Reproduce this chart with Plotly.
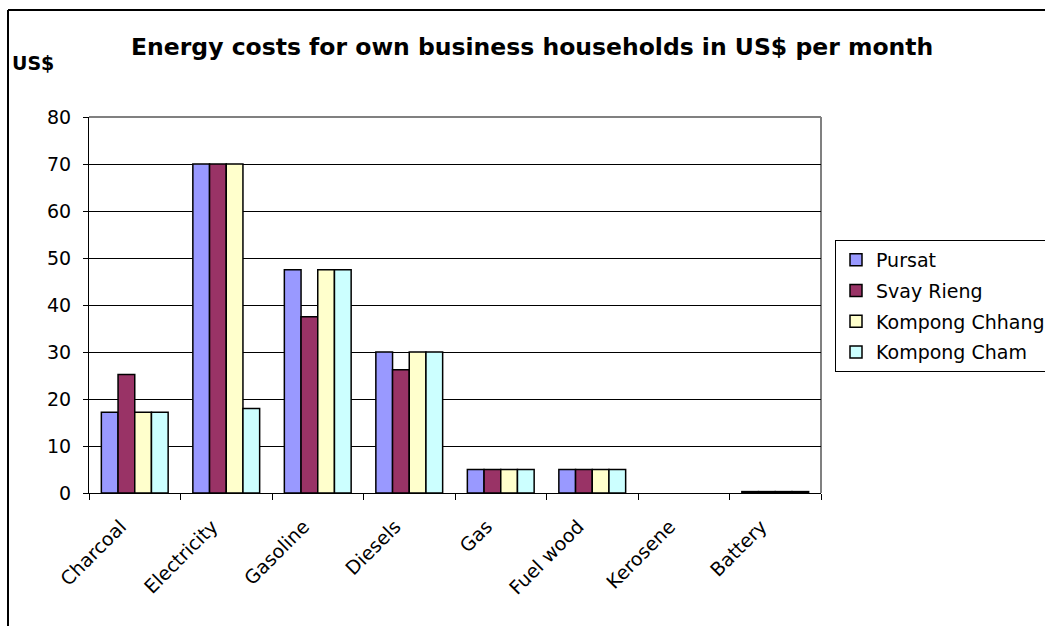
import plotly.graph_objects as go

# Monthly energy costs (US$) for own-business households, by province
categories = ["Charcoal", "Electricity", "Gasoline", "Diesels", "Gas", "Fuel wood", "Kerosene", "Battery"]
pursat = [17.2, 70, 47.5, 30, 5, 5, 0, 0.3]
svay_rieng = [25.2, 70, 37.5, 26.2, 5, 5, 0, 0.3]
kompong_chhang = [17.2, 70, 47.5, 30, 5, 5, 0, 0.3]
kompong_cham = [17.2, 18, 47.5, 30, 5, 5, 0, 0.3]

series = [
    ("Pursat", pursat, "#9999FF"),
    ("Svay Rieng", svay_rieng, "#993366"),
    ("Kompong Chhang", kompong_chhang, "#FFFFCC"),
    ("Kompong Cham", kompong_cham, "#CCFFFF"),
]

FONT = "DejaVu Sans, Verdana, sans-serif"

fig = go.Figure()
for i, (name, vals, color) in enumerate(series):
    # zero-height bars get no outline so they don't thicken the axis line
    outline = [1.5 if v > 0 else 0 for v in vals]
    fig.add_trace(go.Bar(
        name=name, x=categories, y=vals,
        marker=dict(color=color, line=dict(color="#000000", width=outline)),
        legendgroup=f"g{i}",
    ))

# Plot-area geometry in pixels
W, H = 1045, 626
L, R, T, B = 89, 821, 117, 493
pw, ph = R - L, B - T


def px(x):
    return (x - L) / pw


def py(y):
    return (B - y) / ph


fig.update_layout(
    width=W, height=H,
    margin=dict(l=L, r=W - R, t=T, b=H - B, pad=0, autoexpand=False),
    paper_bgcolor="white", plot_bgcolor="white",
    barmode="group", bargap=0.27, bargroupgap=0,
    font=dict(family=FONT, size=18, color="#000000"),
    showlegend=True,
    legend=dict(
        x=px(835), y=py(240), xanchor="left", yanchor="top",
        bordercolor="#000000", borderwidth=1, bgcolor="white",
        font=dict(size=19, family=FONT), tracegroupgap=3,
        itemwidth=30,
    ),
    xaxis=dict(
        showline=True, linecolor="#000000", linewidth=1,
        ticks="outside", ticklen=6, tickcolor="#000000",
        tickson="boundaries", tickangle=-45,
        ticklabelstandoff=14, ticklabelshift=-14,
        tickfont=dict(size=19, family=FONT),
        showgrid=False,
    ),
    yaxis=dict(
        range=[0, 80], dtick=10, tick0=0,
        showline=True, linecolor="#000000", linewidth=1,
        ticks="outside", ticklen=5, tickcolor="#000000",
        ticklabelstandoff=8,
        tickfont=dict(size=19, family=FONT),
        showgrid=True, gridcolor="#000000", gridwidth=1,
        zeroline=False,
    ),
    shapes=[
        # grey top/right frame of the plot area
        dict(type="line", xref="paper", yref="paper", x0=0, y0=1, x1=1, y1=1,
             line=dict(color="#808080", width=2), layer="below"),
        dict(type="line", xref="paper", yref="paper", x0=1, y0=0, x1=1, y1=1,
             line=dict(color="#808080", width=2), layer="below"),
        # outer chart border
        dict(type="line", xref="paper", yref="paper", x0=px(8), y0=py(10), x1=px(1050), y1=py(10),
             line=dict(color="#000000", width=2)),
        dict(type="line", xref="paper", yref="paper", x0=px(8), y0=py(10), x1=px(8), y1=py(640),
             line=dict(color="#000000", width=2)),
    ],
    annotations=[
        dict(text="<b>Energy costs for own business households in US$ per month</b>",
             xref="paper", yref="paper", x=px(532), y=py(47),
             xanchor="center", yanchor="middle", showarrow=False,
             font=dict(size=23.5, family=FONT)),
        dict(text="<b>US$</b>", xref="paper", yref="paper", x=px(10), y=py(63),
             xanchor="left", yanchor="middle", showarrow=False,
             font=dict(size=19, family=FONT)),
    ],
)

fig.write_html("out.html")
